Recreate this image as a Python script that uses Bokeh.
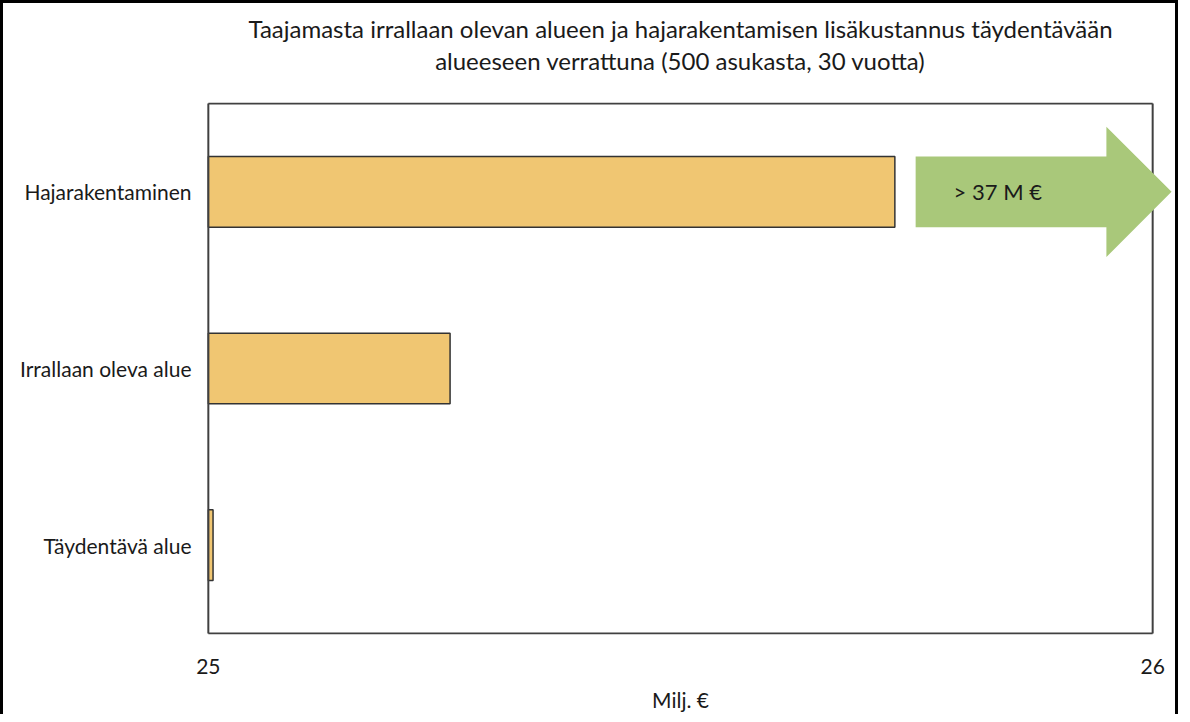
from bokeh.plotting import figure
from bokeh.models import FixedTicker, Range1d, Label, ColumnDataSource, Title
from bokeh.embed import file_html
from bokeh.resources import INLINE

# ---- data ----
categories = ["Täydentävä alue", "Irrallaan oleva alue", "Hajarakentaminen"]
values = [25.005, 25.256, 25.727]          # Milj. €
x_ticks = [25, 26]
title_lines = [
    "Taajamasta irrallaan olevan alueen ja hajarakentamisen lisäkustannus täydentävään",
    "alueeseen verrattuna (500 asukasta, 30 vuotta)",
]
x_label = "Milj. €"
arrow_text = "> 37 M €"

FONT = "Lato"
BAR_COLOR = "#F0C672"
GREEN = "#A9C87A"
FRAME = "#404040"
TEXT = "#1a1a1a"

x_start, x_end = 25.0, 26.0
ext = 0.021          # symmetric room so the arrow tip can pass the 26 line
n = len(categories)
ypad = 0.006

p = figure(width=1178, height=714, output_backend="svg", toolbar_location=None,
           x_range=Range1d(x_start - ext, x_end + ext),
           y_range=Range1d(-ypad, n + ypad),
           min_border_left=185, min_border_right=9, min_border_top=99,
           min_border_bottom=83)
p.styles = {"border-top": "3px solid black", "border-left": "3px solid black",
            "border-right": "3px solid black", "box-sizing": "border-box"}
p.outline_line_color = None
p.xgrid.visible = False
p.ygrid.visible = False

y_pos = [i + 0.5 for i in range(n)]
src = ColumnDataSource(dict(y=y_pos, right=values, cat=categories))
p.hbar(y="y", left=x_start, right="right", height=0.4, source=src,
       fill_color=BAR_COLOR, line_color="#333333", line_width=1.5)

# frame of the 25..26 plot area (left, top, right, bottom)
p.segment(x0=[x_start, x_start, x_end, x_start], y0=[0, n, 0, 0],
          x1=[x_start, x_end, x_end, x_end], y1=[n, n, n, 0],
          line_color=FRAME, line_width=2)

# green arrow next to the largest bar
yc = y_pos[2]
shaft_h, head_h = 0.2, 0.369
x0a, xh, xt = 25.749, 25.951, 26.020
p.patch(x=[x0a, xh, xh, xt, xh, xh, x0a],
        y=[yc + shaft_h, yc + shaft_h, yc + head_h, yc, yc - head_h, yc - shaft_h, yc - shaft_h],
        fill_color=GREEN, line_color=None)
p.add_layout(Label(x=25.836, y=yc, text=arrow_text, text_align="center",
                   text_baseline="middle", text_font=FONT, text_font_size="22px",
                   text_color=TEXT))

# axes
p.xaxis.ticker = FixedTicker(ticks=x_ticks)
p.xaxis.axis_line_color = None
p.xaxis.major_tick_line_color = None
p.xaxis.minor_tick_line_color = None
p.xaxis.major_label_standoff = 18
p.xaxis.major_label_text_font = FONT
p.xaxis.major_label_text_font_size = "21px"
p.xaxis.major_label_text_color = TEXT
p.xaxis.axis_label = x_label
p.xaxis.axis_label_text_font = FONT
p.xaxis.axis_label_text_font_style = "normal"
p.xaxis.axis_label_text_font_size = "21px"
p.xaxis.axis_label_text_color = TEXT
p.xaxis.axis_label_standoff = 10

p.yaxis.ticker = FixedTicker(ticks=y_pos)
p.yaxis.major_label_overrides = {y: c for y, c in zip(y_pos, categories)}
p.yaxis.axis_line_color = None
p.yaxis.major_tick_line_color = None
p.yaxis.minor_tick_line_color = None
p.yaxis.major_label_standoff = -9
p.yaxis.major_label_text_font = FONT
p.yaxis.major_label_text_font_size = "21px"
p.yaxis.major_label_text_color = TEXT

# two-line title, each line centred over the plot
p.add_layout(Title(text=title_lines[1], align="center", text_font=FONT,
                   text_font_size="24px", text_font_style="normal",
                   text_color=TEXT, standoff=55), "above")
p.add_layout(Title(text=title_lines[0], align="center", text_font=FONT,
                   text_font_size="24px", text_font_style="normal",
                   text_color=TEXT, standoff=-52), "above")

open("out.html", "w").write(file_html(p, INLINE))
